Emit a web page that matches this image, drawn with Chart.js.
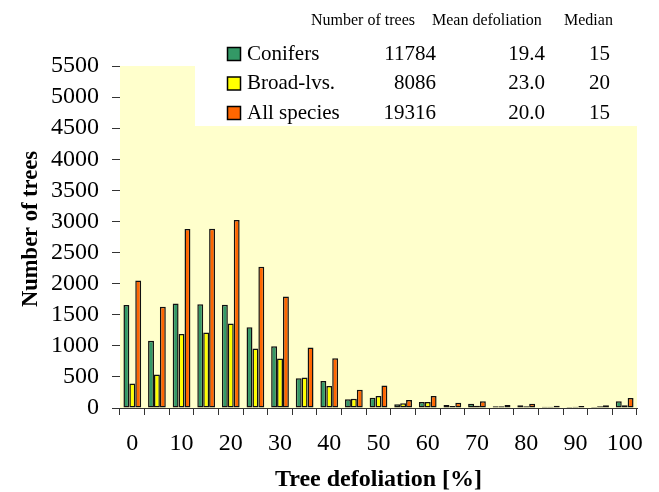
<!DOCTYPE html>
<html>
<head>
<meta charset="utf-8">
<script src="https://cdn.jsdelivr.net/npm/chart.js@4/dist/chart.umd.min.js"></script>
<style>
  html, body { margin: 0; padding: 0; background: #fff; }
  #chart { display: block; }
</style>
</head>
<body>
<canvas id="chart" width="659" height="492"></canvas>
<script>
// defoliation classes, 5% steps
const classes = ["0", "5", "10", "15", "20", "25", "30", "35", "40", "45", "50",
                 "55", "60", "65", "70", "75", "80", "85", "90", "95", "100"];

const conifers  = [1655, 1080, 1680, 1670, 1660, 1300, 995, 478, 435, 140, 165,
                   60, 97, 48, 70, 27, 43, 21, 16, 16, 107];
const broadLvs  = [392, 537, 1192, 1214, 1359, 956, 795, 489, 354, 150, 193,
                   75, 97, 32, 38, 27, 27, 21, 21, 27, 43];
const allSpecies = [2050, 1627, 2878, 2884, 3023, 2272, 1794, 972, 800, 295, 360,
                    129, 193, 86, 107, 48, 70, 38, 32, 43, 161];

const seriesNames  = ["Conifers", "Broad-lvs.", "All species"];
const seriesColors = ["#339966", "#FFFF00", "#FF6600"];
const treeCounts   = ["11784", "8086", "19316"];
const meanDefol    = ["19.4", "23.0", "20.0"];
const medians      = ["15", "20", "15"];
const tableHeads   = ["Number of trees", "Mean defoliation", "Median"];

const yTitle = "Number of trees";
const xTitle = "Tree defoliation [%]";

const serif = "'Liberation Serif', 'Times New Roman', serif";

// light yellow plot area, white legend box cut into it
const plotBg = {
  id: "plotBg",
  beforeDatasetsDraw(chart) {
    const { ctx, chartArea: a } = chart;
    ctx.save();
    ctx.fillStyle = "#FFFFCC";
    ctx.fillRect(a.left, a.top, a.right - a.left, a.bottom - a.top);
    ctx.fillStyle = "#FFFFFF";
    ctx.fillRect(195, 0, a.right - 195, 126);
    ctx.restore();
  }
};

// legend drawn as a small table, plus the y title (sits a bit above centre)
const tableLegend = {
  id: "tableLegend",
  afterDraw(chart) {
    const { ctx } = chart;
    ctx.save();
    ctx.fillStyle = "#000";
    ctx.textBaseline = "middle";
    ctx.font = "16px " + serif;
    ctx.textAlign = "left";
    ctx.fillText(tableHeads[0], 311, 21);
    ctx.fillText(tableHeads[1], 432, 21);
    ctx.fillText(tableHeads[2], 564, 21);

    ctx.font = "21px " + serif;
    seriesNames.forEach((name, i) => {
      const y = 54 + i * 29.5;
      ctx.fillStyle = seriesColors[i];
      ctx.fillRect(227.5, y - 6.5, 13, 13);
      ctx.strokeStyle = "#000";
      ctx.lineWidth = 1.5;
      ctx.strokeRect(227.5, y - 6.5, 13, 13);
      ctx.fillStyle = "#000";
      ctx.textAlign = "left";
      ctx.fillText(name, 247, y);
      ctx.textAlign = "right";
      ctx.fillText(treeCounts[i], 436, y);
      ctx.fillText(meanDefol[i], 545, y);
      ctx.fillText(medians[i], 610, y);
    });

    ctx.translate(31, 229);
    ctx.rotate(-Math.PI / 2);
    ctx.textAlign = "center";
    ctx.font = "bold 22.5px " + serif;
    ctx.fillText(yTitle, 0, 0);
    ctx.restore();
  }
};

new Chart(document.getElementById("chart"), {
  type: "bar",
  data: {
    labels: classes,
    datasets: [
      { label: seriesNames[0], data: conifers },
      { label: seriesNames[1], data: broadLvs },
      { label: seriesNames[2], data: allSpecies }
    ].map((d, i) => ({
      ...d,
      backgroundColor: seriesColors[i],
      borderColor: "#111",
      borderWidth: 1.5,
      borderSkipped: false,
      categoryPercentage: 0.72,
      barPercentage: 1.0
    }))
  },
  options: {
    responsive: false,
    animation: false,
    devicePixelRatio: 1,
    layout: { padding: { top: 66, right: 22, left: 0, bottom: 0 } },
    plugins: { legend: { display: false }, tooltip: { enabled: false } },
    scales: {
      x: {
        grid: { drawOnChartArea: false, tickLength: 7, color: "#333", offset: true },
        border: { color: "#333" },
        ticks: {
          autoSkip: false,
          maxRotation: 0,
          padding: 14,
          color: "#000",
          font: { family: serif, size: 24 },
          callback(v, i) { return i % 2 === 0 ? classes[i] : ""; }
        },
        title: {
          display: true,
          text: xTitle,
          color: "#000",
          font: { family: serif, size: 24, weight: "bold", lineHeight: 1 },
          padding: { top: 0, bottom: 0 }
        },
        afterFit(scale) { scale.height = 84; }
      },
      y: {
        min: 0,
        max: 5500,
        grid: { drawOnChartArea: false, tickLength: 8, color: "#333" },
        border: { color: "#333" },
        ticks: {
          stepSize: 500,
          autoSkip: false,
          padding: 13,
          color: "#000",
          font: { family: serif, size: 24, lineHeight: 1 },
          callback(v) { return String(v); }
        },
        afterFit(scale) { scale.width = 120; }
      }
    }
  },
  plugins: [plotBg, tableLegend]
});
</script>
</body>
</html>
